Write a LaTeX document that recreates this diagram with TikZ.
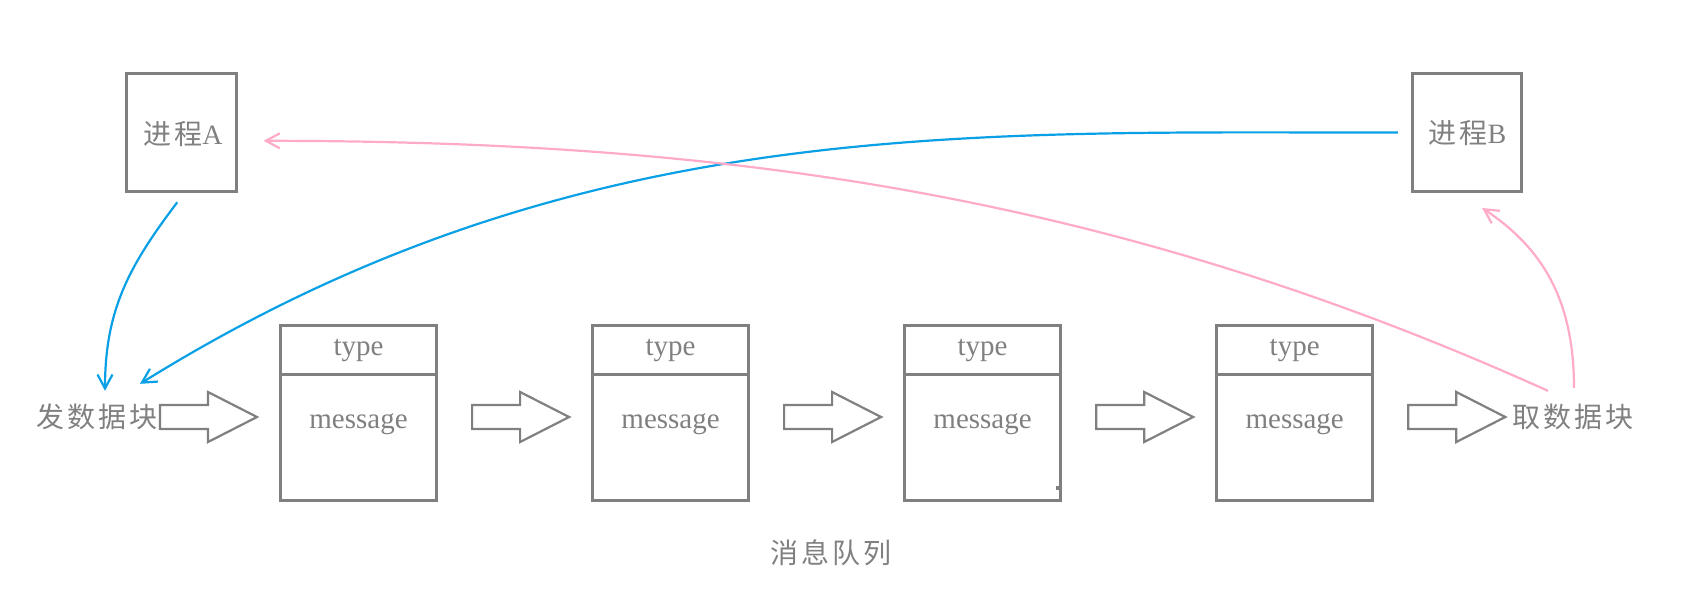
\documentclass[tikz,border=0pt]{standalone}
\usepackage{fontspec}
\setmainfont{Liberation Serif}
\newfontfamily\cjk{Noto Sans CJK SC}[LetterSpace=10]
\usetikzlibrary{arrows.meta}
\definecolor{lgray}{HTML}{808080}
\definecolor{skyb}{HTML}{0AA0E6}
\definecolor{pinkc}{HTML}{FFAAC8}
\begin{document}
\begin{tikzpicture}[x=1pt,y=-1pt,
  proc/.style={draw=lgray,line width=3pt,minimum width=109.5pt,minimum height=118pt,inner sep=0pt},
  qbox/.style={draw=lgray,line width=3pt,minimum width=156pt,minimum height=175pt,inner sep=0pt},
  lbl/.style={text=lgray,inner sep=0pt,font=\fontsize{28}{30}\selectfont},
  wtxt/.style={text=lgray,inner sep=0pt,anchor=base,font=\fontsize{29}{31}\selectfont},
  blk/.style={draw=lgray,line width=2.2pt,line join=miter},
  bcurve/.style={draw=skyb,line width=2.2pt,-{Straight Barb[length=14pt,width=15pt,line width=2.2pt]}},
  pcurve/.style={draw=pinkc,line width=2.2pt,-{Straight Barb[length=14pt,width=15pt,line width=2.2pt]}},
  barrow/.pic={\draw[blk] (0,405) -- (48,405) -- (48,392) -- (97,417) -- (48,442) -- (48,429) -- (0,429) -- cycle;}
]
\useasboundingbox (0,0) rectangle (1695,598);

% processes
\node[proc] (pa) at (181.25,132.8) {};
\node[lbl] (pat) at (183,134) {{\cjk 进程}A};
\node[proc] (pb) at (1467.2,132.5) {};
\node[lbl] (pbt) at (1467.5,133) {{\cjk 进程}B};

% queue boxes
\foreach \i/\cx in {1/358.5,2/670.6,3/982.6,4/1294.7}{
  \node[qbox] (q\i) at (\cx,413.1) {};
  \draw[draw=lgray,line width=3pt] ([yshift=-50pt]q\i.north west) -- ([yshift=-50pt]q\i.north east);
  \node[wtxt] (t\i) at (\cx,355) {type};
  \node[wtxt] (m\i) at (\cx,428) {message};
}
\fill[lgray] (1056,486) rectangle (1059.5,490);

% block arrows
\foreach \i/\lx in {1/160,2/472.1,3/784.1,4/1096.2,5/1408.3}{
  \pic (ba\i) at (\lx,0) {barrow};
}

% labels
\node[lbl] (send) at (97,417) {\cjk 发数据块};
\node[lbl] (recv) at (1573,417) {\cjk 取数据块};
\node[lbl] (queue) at (831,553) {\cjk 消息队列};

% connectors
\draw[bcurve] ([shift={(-4,9)}]pa.south) .. controls (129,266) and (105,310) .. ([shift={(8,-13)}]send.north);
\draw[bcurve] ([shift={(-13,0)}]pb.west) .. controls (964,133) and (574,114) .. ([shift={(43,-20)}]send.north);
\draw[pcurve] ([shift={(-25,-13)}]recv.north) .. controls (1101,189) and (710,141) .. ([shift={(26,8)}]pa.east);
\draw[pcurve] ([shift={(1,-16)}]recv.north) .. controls (1574,297) and (1540,246.5) .. ([shift={(15,15)}]pb.south);
\end{tikzpicture}
\end{document}
